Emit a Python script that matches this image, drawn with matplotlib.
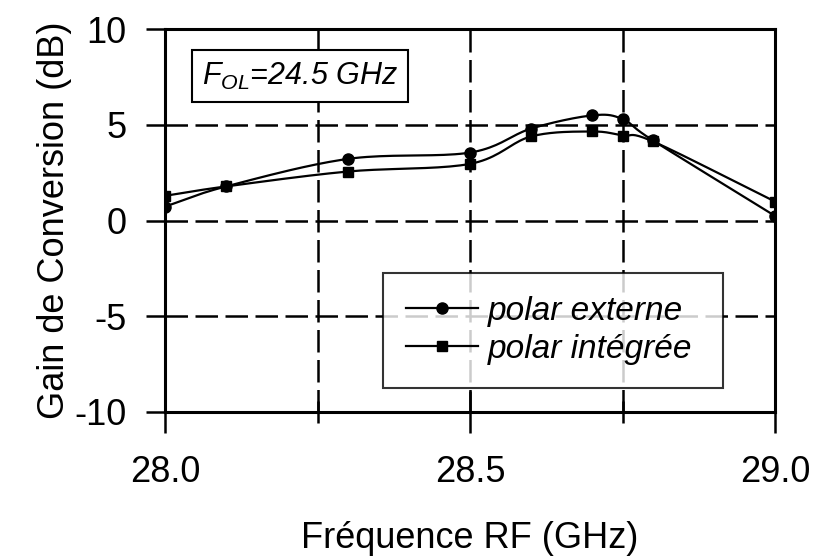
import numpy as np
import matplotlib
matplotlib.use("Agg")
import matplotlib.pyplot as plt
from matplotlib.ticker import FixedLocator
from matplotlib.patches import Rectangle

plt.rcParams['font.family'] = ['Liberation Sans', 'DejaVu Sans']
plt.rcParams['mathtext.fontset'] = 'custom'
plt.rcParams['mathtext.rm'] = 'Liberation Sans'
plt.rcParams['mathtext.it'] = 'Liberation Sans:italic'

# gain de conversion vs frequence RF, F_OL = 24.5 GHz
freq = [28.0, 28.1, 28.3, 28.5, 28.6, 28.7, 28.75, 28.8, 29.0]
gain_externe = [0.73, 1.78, 3.22, 3.55, 4.8, 5.49, 5.3, 4.18, 0.24]
gain_integree = [1.29, 1.78, 2.56, 2.96, 4.39, 4.65, 4.44, 4.13, 0.99]

xticks = [28.0, 28.5, 29.0]
xtick_labels = ['28.0', '28.5', '29.0']
yticks = [-10, -5, 0, 5, 10]
ytick_labels = ['-10', '-5', '0', '5', '10']


def smooth(x, y, n=20):
    # catmull-rom curve through the measured points
    x = np.asarray(x, float)
    y = np.asarray(y, float)
    px = np.concatenate(([2 * x[0] - x[1]], x, [2 * x[-1] - x[-2]]))
    py = np.concatenate(([2 * y[0] - y[1]], y, [2 * y[-1] - y[-2]]))
    xs, ys = [], []
    t = np.linspace(0, 1, n, endpoint=False)
    for i in range(1, len(px) - 2):
        for p, out in ((px, xs), (py, ys)):
            p0, p1, p2, p3 = p[i - 1], p[i], p[i + 1], p[i + 2]
            out.extend(0.5 * (2 * p1 + (-p0 + p2) * t
                              + (2 * p0 - 5 * p1 + 4 * p2 - p3) * t ** 2
                              + (-p0 + 3 * p1 - 3 * p2 + p3) * t ** 3))
    xs.append(x[-1])
    ys.append(y[-1])
    return np.array(xs), np.array(ys)


fig = plt.figure(figsize=(8.19, 5.59), dpi=100)
ax = fig.add_axes([0.2015, 0.263, 0.7448, 0.685])

for vals, mk, ms, lab in ((gain_externe, 'o', 8, 'polar externe'),
                          (gain_integree, 's', 7, 'polar intégrée')):
    sx, sy = smooth(freq, vals)
    ax.plot(sx, sy, color='black', lw=1.6, zorder=3)
    ax.plot(freq, vals, ls='none', marker=mk, ms=ms, color='black', zorder=4)
    ax.plot([], [], color='black', lw=1.6, marker=mk, ms=ms, label=lab)

ax.set_xlim(28.0, 29.0)
ax.set_ylim(-10, 10)
ax.xaxis.set_major_locator(FixedLocator(xticks))
ax.set_xticklabels(xtick_labels)
ax.xaxis.set_minor_locator(FixedLocator([28.25, 28.75]))
ax.yaxis.set_major_locator(FixedLocator(yticks))
ax.set_yticklabels(ytick_labels)

dash = (0, (9, 3))
for x in [28.25, 28.5, 28.75]:
    ax.axvline(x, color='black', lw=1.8, ls=dash, zorder=1)
for y in [-5, 0, 5]:
    ax.axhline(y, color='black', lw=1.8, ls=dash, zorder=1)

ax.tick_params(axis='x', which='major', direction='inout', length=30,
               width=1.8, labelsize=26, pad=16)
ax.tick_params(axis='x', which='minor', direction='inout', length=16,
               width=1.8)
ax.tick_params(axis='y', which='major', direction='out', length=14,
               width=1.8, labelsize=26, pad=14)
for s in ax.spines.values():
    s.set_linewidth(2.2)

fig.text(0.573, 0.02, 'Fréquence RF (GHz)', fontsize=26,
         ha='center', va='baseline')
fig.text(0.066, 0.606, 'Gain de Conversion (dB)', fontsize=26,
         rotation=90, ha='center', va='center')

# frequency annotation box
ax.add_patch(Rectangle((0.044, 0.809), 0.354, 0.136, transform=ax.transAxes,
                       facecolor='white', edgecolor='black', lw=1.5, zorder=5))
ax.text(0.221, 0.877, r'$F_{OL}$=24.5 GHz', transform=ax.transAxes,
        fontsize=22, style='italic', ha='center', va='center', zorder=6)

leg = ax.legend(loc='lower left', bbox_to_anchor=(0.357, 0.0627, 0.557, 0.297),
                mode='expand', fontsize=24, frameon=True, fancybox=False,
                handlelength=2.16, handletextpad=0.3, borderpad=0.7,
                labelspacing=0.2, borderaxespad=0)
leg.get_frame().set_edgecolor('black')
leg.get_frame().set_linewidth(1.5)
leg.set_zorder(6)
for t in leg.get_texts():
    t.set_style('italic')

fig.savefig('out.png', dpi=100)
